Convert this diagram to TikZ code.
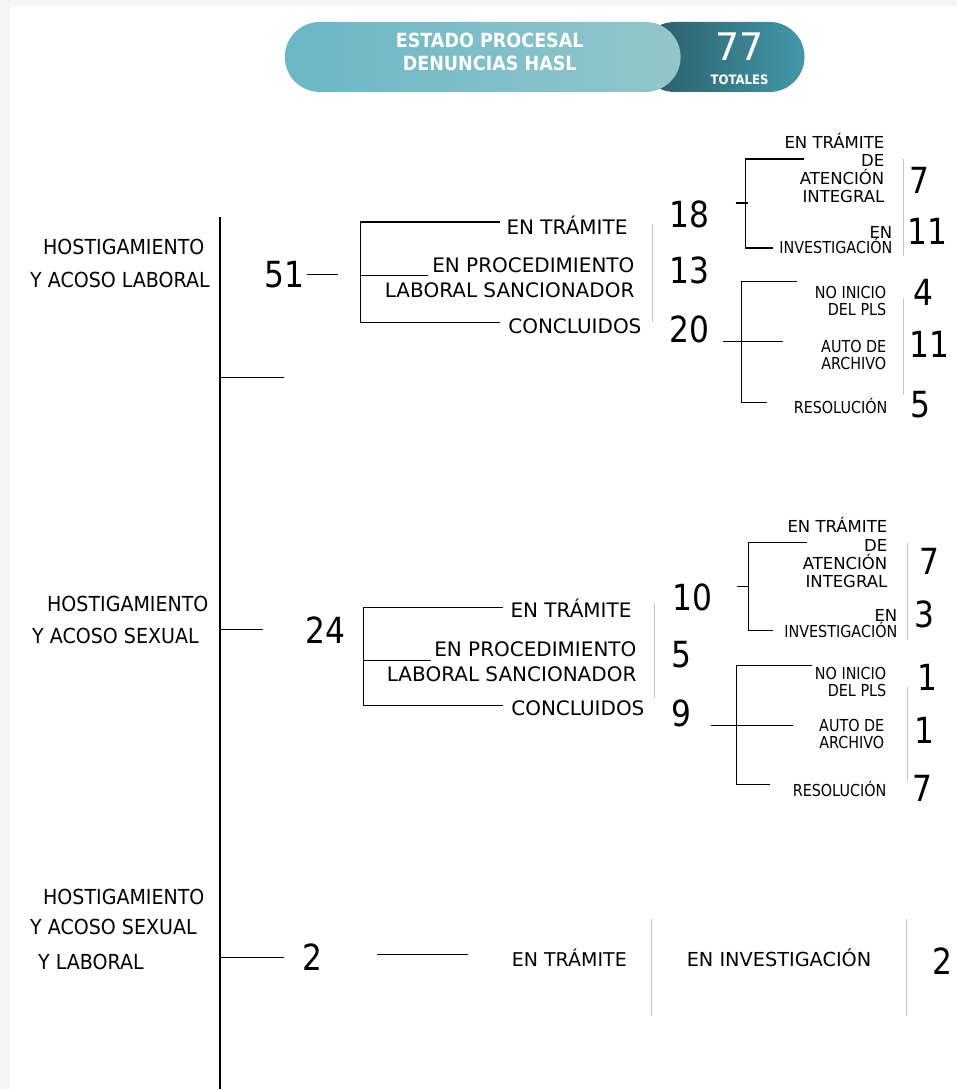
\documentclass[tikz,border=0pt]{standalone}
\usepackage{fontspec}
\setmainfont{DejaVu Sans}
\newfontfamily\narrowfont[FakeStretch=0.87]{DejaVu Sans}
\newfontfamily\casefont[FakeStretch=0.92]{DejaVu Sans}
\newfontfamily\headfont[FakeStretch=0.9]{DejaVu Sans}
\usetikzlibrary{positioning,calc}

\definecolor{pagegray}{HTML}{F5F5F5}
\definecolor{pillLightL}{HTML}{6AB7C5}
\definecolor{pillLightR}{HTML}{93C6CB}
\definecolor{pillDarkL}{HTML}{2A5A64}
\definecolor{pillDarkR}{HTML}{4398AA}

\begin{document}
\begin{tikzpicture}[
    x=1pt, y=-1pt,
    stage/.style={inner sep=0pt, anchor=east, align=right, font=\fontsize{20}{24.5}\selectfont},
    substage/.style={inner sep=0pt, anchor=east, align=right, font=\fontsize{16.5}{18.3}\selectfont},
    narrowstage/.style={inner sep=0pt, anchor=east, align=right, font=\narrowfont\fontsize{16.5}{17}\selectfont},
    casetype/.style={inner sep=0pt, anchor=west, font=\casefont\fontsize{20.7}{21}\selectfont},
    tally/.style={inner sep=0pt, font=\narrowfont\fontsize{36}{36}\selectfont},
    branch/.style={line width=1.3pt, black},
    divider/.style={line width=0.9pt, gray!45}
]

% Page
\fill[pagegray] (0,0) rectangle (958,1090);
\fill[white] (10,6) rectangle (958,1090);

% Header
\shade[left color=pillDarkL, right color=pillDarkR, rounded corners=35pt] (640,22) rectangle (805,92);
\shade[left color=pillLightL, right color=pillLightR, rounded corners=35pt] (285,22) rectangle (681,92);
\node[align=center, text=white, font=\headfont\bfseries\fontsize{19.5}{23}\selectfont] (title) at (490,52) {ESTADO PROCESAL\\DENUNCIAS HASL};
\node[text=white, font=\fontsize{38}{38}\selectfont] (total) at (740,47) {77};
\node[text=white, font=\headfont\bfseries\fontsize{13}{13}\selectfont] (totlabel) at (740,80) {TOTALES};

% Main spine
\coordinate (spine-top) at (220,217);
\coordinate (spine-bot) at (220,1090);
\draw[branch] (spine-top) -- (spine-bot);

% Case 1: acoso laboral
\node[casetype] (hal1) at (43,247) {HOSTIGAMIENTO};
\node[casetype] (hal2) at (30,280) {Y ACOSO LABORAL};
\draw[branch] (220,378) -- ++(64,0);
\node[tally] (n51) at (285,275) {51};
\draw[branch] ([xshift=2pt]n51.east) -- ++(31,0);

\node[stage] (hal-tram) at (628,225) {EN TRÁMITE};
\node[stage] (hal-pls) at (635,278) {EN PROCEDIMIENTO\\LABORAL SANCIONADOR};
\node[stage] (hal-conc) at (642,326) {CONCLUIDOS};
\coordinate (hal-a) at (500,222);
\coordinate (hal-c) at (361,323);
\coordinate (hal-b) at (500,323);
\draw[branch] (hal-a) -| (hal-c) -- (hal-b);
\draw[branch] (361,276) -- (428,276);
\draw[divider] (653,224) -- (653,322);
\node[tally] (n18) at (690,215) {18};
\node[tally] (n13) at (690,271) {13};
\node[tally] (n20) at (690,330) {20};

% Case 1: en tramite
\node[substage] (hal-ai) at (885,168) {EN TRÁMITE\\DE\\ATENCIÓN\\INTEGRAL};
\node[substage, font=\fontsize{16.5}{15.5}\selectfont] (hal-inv) at (893,240) {EN\\\narrowfont INVESTIGACIÓN};
\draw[branch] (n18.east) ++(26,-12) -- ++(12,0);
\draw[branch] (804,159) -| (746,248) -- (773,248);
\draw[divider] (904,159) -- (904,256);
\node[tally] (n7a) at (920,180) {7};
\node[tally] (n11a) at (928,232) {11};

% Case 1: concluidos
\node[narrowstage] (hal-noini) at (887,301) {NO INICIO\\DEL PLS};
\node[narrowstage] (hal-arch) at (887,355) {AUTO DE\\ARCHIVO};
\node[narrowstage] (hal-res) at (888,406) {RESOLUCIÓN};
\draw[branch] (797,282) -| (742,403) -- (767,403);
\draw[branch] (723,342) -- (783,342);
\draw[divider] (904,298) -- (904,395);
\node[tally] (n4a) at (924,293) {4};
\node[tally] (n11b) at (930,345) {11};
\node[tally] (n5a) at (921,405) {5};

% Case 2: acoso sexual
\node[casetype] (has1) at (47,604) {HOSTIGAMIENTO};
\node[casetype] (has2) at (32,636) {Y ACOSO SEXUAL};
\node[tally] (n24) at (326,631) {24};
\draw[branch] (220,630) -- ++(43,0);

\node[stage] (has-tram) at (632,609) {EN TRÁMITE};
\node[stage] (has-pls) at (637,662) {EN PROCEDIMIENTO\\LABORAL SANCIONADOR};
\node[stage] (has-conc) at (645,709) {CONCLUIDOS};
\coordinate (has-a) at (503,608);
\coordinate (has-c) at (364,706);
\coordinate (has-b) at (503,706);
\draw[branch] (has-a) -| (has-c) -- (has-b);
\draw[branch] (364,661) -- (431,661);
\draw[divider] (655,603) -- (655,698);
\node[tally] (n10) at (693,598) {10};
\node[tally] (n5b) at (682,655) {5};
\node[tally] (n9) at (682,714) {9};

% Case 2: en tramite
\node[substage] (has-ai) at (888,553) {EN TRÁMITE\\DE\\ATENCIÓN\\INTEGRAL};
\node[substage, font=\fontsize{16.5}{15.5}\selectfont] (has-inv) at (898,624) {EN\\\narrowfont INVESTIGACIÓN};
\draw[branch] (737,587) -- (749,587);
\draw[branch] (807,543) -| (749,631) -- (773,631);
\draw[divider] (908,543) -- (908,640);
\node[tally] (n7b) at (930,562) {7};
\node[tally] (n3) at (925,615) {3};

% Case 2: concluidos
\node[narrowstage] (has-noini) at (887,682) {NO INICIO\\DEL PLS};
\node[narrowstage] (has-arch) at (885,734) {AUTO DE\\ARCHIVO};
\node[narrowstage] (has-res) at (887,789) {RESOLUCIÓN};
\draw[branch] (812,666) -| (737,785) -- (770,785);
\draw[branch] (711,726) -- (793,726);
\draw[divider] (908,687) -- (908,782);
\node[tally] (n1a) at (928,678) {1};
\node[tally] (n1b) at (925,731) {1};
\node[tally] (n7c) at (923,789) {7};

% Case 3: sexual y laboral
\node[casetype] (hsl1) at (43,897) {HOSTIGAMIENTO};
\node[casetype] (hsl2) at (30,928) {Y ACOSO SEXUAL};
\node[casetype] (hsl3) at (38,963) {Y LABORAL};
\draw[branch] (220,958) -- ++(64,0);
\node[tally] (n2a) at (313,958) {2};
\draw[branch] (377,955) -- (468,955);
\node[stage, anchor=west, font=\fontsize{19}{19}\selectfont] (hsl-tram) at (512,958) {EN TRÁMITE};
\node[stage, anchor=west, font=\fontsize{19.3}{19}\selectfont] (hsl-inv) at (687,958) {EN INVESTIGACIÓN};
\draw[divider] (652,920) -- (652,1017);
\draw[divider] (907,920) -- (907,1017);
\node[tally] (n2b) at (943,962) {2};

\end{tikzpicture}
\end{document}
